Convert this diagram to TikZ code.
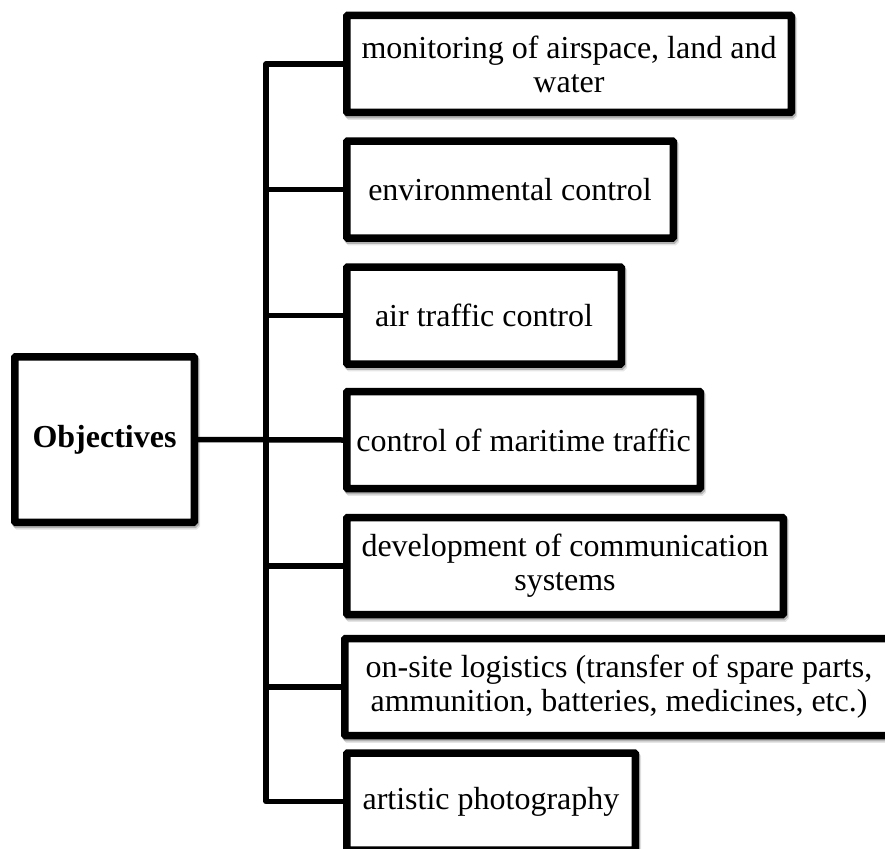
\documentclass[tikz,border=0pt]{standalone}
\usepackage{fontspec}
\setmainfont{Liberation Serif}
\usetikzlibrary{shadows}

\begin{document}
\begin{tikzpicture}[
  x=1pt, y=-1pt,
  softshadow/.style={
    general shadow={shadow xshift=1pt, shadow yshift=-2pt,
      draw=black, fill=black, line width=7.5pt, opacity=.22},
    general shadow={shadow xshift=2pt, shadow yshift=-3.5pt,
      draw=black, fill=black, line width=7.5pt, opacity=.10}},
  itembox/.style={draw=black, fill=white, line width=7.5pt,
    rounded corners=1pt, softshadow, inner sep=0pt, align=center,
    minimum height=97pt,
    font=\fontsize{32}{34}\selectfont},
  link/.style={draw=black, line width=5.5pt, line join=round}
]
  \useasboundingbox (0,0) rectangle (885,848);
  \clip (0,0) rectangle (885,848);

  % root box
  \node[itembox, minimum width=179.5pt, minimum height=165.5pt,
        font=\fontsize{32}{34}\selectfont\bfseries]
        (obj) at (104.5,439.5) {Objectives};

  % objective boxes
  \node[itembox, minimum width=444.5pt] (b1) at (569,64)
        {monitoring of airspace, land and\\water};
  \node[itembox, minimum width=326.5pt] (b2) at (510,189.5)
        {environmental control};
  \node[itembox, minimum width=274.5pt] (b3) at (484,315.5)
        {air traffic control};
  \node[itembox, minimum width=353.5pt] (b4) at (523.5,440)
        {control of maritime traffic};
  \node[itembox, minimum width=436.5pt] (b5) at (565,566)
        {development of communication\\systems};
  \node[itembox, minimum width=548.5pt] (b6) at (619,687)
        {on-site logistics (transfer of spare parts,\\ammunition, batteries, medicines, etc.)};
  \node[itembox, minimum width=288.5pt] (b7) at (491,801.5)
        {artistic photography};

  % spine and branches
  \coordinate (top) at (266,64);
  \coordinate (bot) at (266,801.5);
  \draw[link] (b1.west) -- (top) -- (bot) -- (b7.west);
  \draw[link] (obj.east) -- (b4.west);
  \draw[link] (b2.west) -- (b2.west -| top);
  \draw[link] (b3.west) -- (b3.west -| top);
  \draw[link] (b5.west) -- (b5.west -| top);
  \draw[link] (b6.west) -- (b6.west -| top);
\end{tikzpicture}
\end{document}
